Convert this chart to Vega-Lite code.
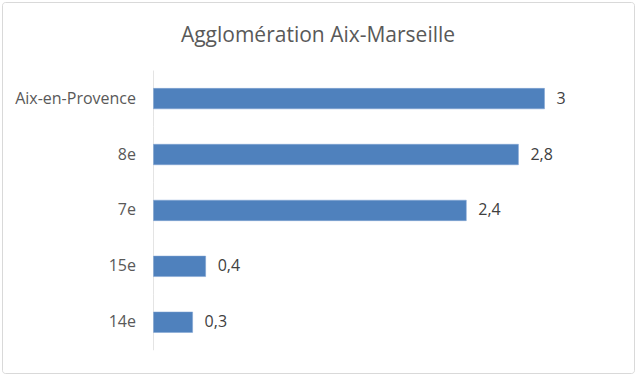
{
  "$schema": "https://vega.github.io/schema/vega-lite/v6.json",
  "width": 632,
  "height": 371,
  "autosize": "none",
  "padding": {"left": 2, "top": 2, "right": 2, "bottom": 3},
  "background": "white",
  "config": {
    "view": {"stroke": "#D9D9D9", "strokeWidth": 1, "cornerRadius": 3},
    "font": "Open Sans"
  },
  "title": {
    "text": "Agglomération Aix-Marseille",
    "anchor": "middle",
    "offset": -44,
    "fontSize": 21,
    "fontWeight": "normal",
    "font": "Open Sans",
    "color": "#595959"
  },
  "data": {
    "values": [
      {"lieu": "Aix-en-Provence", "valeur": 3},
      {"lieu": "8e", "valeur": 2.8},
      {"lieu": "7e", "valeur": 2.4},
      {"lieu": "15e", "valeur": 0.4},
      {"lieu": "14e", "valeur": 0.3}
    ]
  },
  "transform": [
    {"calculate": "replace(format(datum.valeur, '~g'), '.', ',')", "as": "etiquette"}
  ],
  "encoding": {
    "y": {
      "field": "lieu",
      "type": "nominal",
      "sort": null,
      "scale": {"paddingInner": 0.363, "paddingOuter": 1, "align": 0.705},
      "axis": {
        "title": null,
        "domain": false,
        "ticks": false,
        "offset": -151.5,
        "labelPadding": 18,
        "labelFontSize": 16,
        "labelFont": "Open Sans",
        "labelFontWeight": "normal",
        "labelColor": "#595959"
      }
    }
  },
  "layer": [
    {
      "mark": {"type": "tick", "color": "#D9D9D9", "thickness": 1, "size": 56, "orient": "vertical"},
      "encoding": {
        "x": {"datum": 0, "type": "quantitative", "axis": null, "scale": {"domain": [-1.1624, 3.6867], "nice": false, "zero": false}}
      }
    },
    {
      "mark": {"type": "bar", "height": 20.5, "color": "#4F81BD", "stroke": "#7FA3D3", "strokeWidth": 0.5},
      "encoding": {
        "x": {
          "field": "valeur",
          "type": "quantitative",
          "scale": {"domain": [-1.1624, 3.6867], "nice": false, "zero": false},
          "axis": null
        }
      }
    },
    {
      "mark": {"type": "text", "align": "left", "baseline": "middle", "dx": 12, "fontSize": 16, "font": "Open Sans", "color": "#404040"},
      "encoding": {
        "x": {"field": "valeur", "type": "quantitative", "axis": null},
        "text": {"field": "etiquette", "type": "nominal"}
      }
    }
  ]
}
